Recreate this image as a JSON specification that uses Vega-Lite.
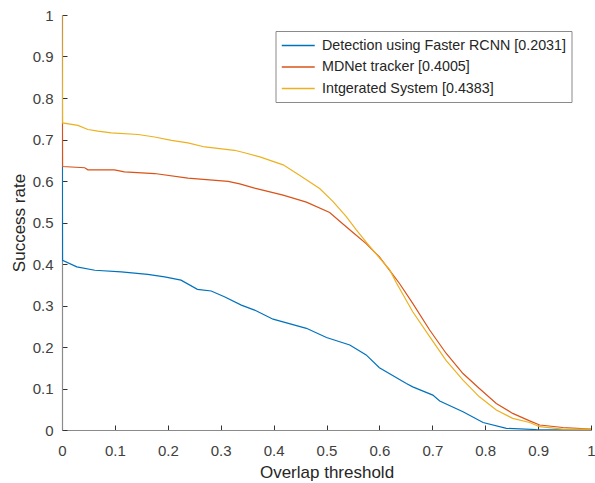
{
  "$schema": "https://vega.github.io/schema/vega-lite/v6.json",
  "width": 529,
  "height": 415,
  "autosize": {"type": "none"},
  "padding": {"left": 62, "top": 15, "right": 4, "bottom": 53},
  "background": "white",
  "config": {
    "view": {"stroke": null},
    "font": "Liberation Sans",
    "axis": {
      "grid": false,
      "domainColor": "#8a8a8a",
      "domainWidth": 1.2,
      "tickColor": "#333333",
      "tickSize": -5,
      "tickWidth": 1,
      "labelFontSize": 15,
      "labelColor": "#404040",
      "labelFont": "Liberation Sans",
      "titleFont": "Liberation Sans",
      "titleFontSize": 17,
      "titleFontWeight": "normal",
      "titleColor": "#262626",
      "labelFlush": false,
      "labelOverlap": false
    }
  },
  "data": {
    "values": [
      {"threshold": 0, "rate": 1, "method": "Detection using Faster RCNN [0.2031]"},
      {"threshold": 0.001, "rate": 0.409, "method": "Detection using Faster RCNN [0.2031]"},
      {"threshold": 0.028, "rate": 0.393, "method": "Detection using Faster RCNN [0.2031]"},
      {"threshold": 0.062, "rate": 0.385, "method": "Detection using Faster RCNN [0.2031]"},
      {"threshold": 0.112, "rate": 0.381, "method": "Detection using Faster RCNN [0.2031]"},
      {"threshold": 0.162, "rate": 0.375, "method": "Detection using Faster RCNN [0.2031]"},
      {"threshold": 0.194, "rate": 0.369, "method": "Detection using Faster RCNN [0.2031]"},
      {"threshold": 0.225, "rate": 0.361, "method": "Detection using Faster RCNN [0.2031]"},
      {"threshold": 0.256, "rate": 0.339, "method": "Detection using Faster RCNN [0.2031]"},
      {"threshold": 0.282, "rate": 0.335, "method": "Detection using Faster RCNN [0.2031]"},
      {"threshold": 0.307, "rate": 0.321, "method": "Detection using Faster RCNN [0.2031]"},
      {"threshold": 0.339, "rate": 0.301, "method": "Detection using Faster RCNN [0.2031]"},
      {"threshold": 0.364, "rate": 0.289, "method": "Detection using Faster RCNN [0.2031]"},
      {"threshold": 0.399, "rate": 0.267, "method": "Detection using Faster RCNN [0.2031]"},
      {"threshold": 0.462, "rate": 0.245, "method": "Detection using Faster RCNN [0.2031]"},
      {"threshold": 0.5, "rate": 0.223, "method": "Detection using Faster RCNN [0.2031]"},
      {"threshold": 0.544, "rate": 0.205, "method": "Detection using Faster RCNN [0.2031]"},
      {"threshold": 0.575, "rate": 0.181, "method": "Detection using Faster RCNN [0.2031]"},
      {"threshold": 0.6, "rate": 0.15, "method": "Detection using Faster RCNN [0.2031]"},
      {"threshold": 0.651, "rate": 0.112, "method": "Detection using Faster RCNN [0.2031]"},
      {"threshold": 0.663, "rate": 0.104, "method": "Detection using Faster RCNN [0.2031]"},
      {"threshold": 0.701, "rate": 0.084, "method": "Detection using Faster RCNN [0.2031]"},
      {"threshold": 0.714, "rate": 0.07, "method": "Detection using Faster RCNN [0.2031]"},
      {"threshold": 0.758, "rate": 0.044, "method": "Detection using Faster RCNN [0.2031]"},
      {"threshold": 0.796, "rate": 0.018, "method": "Detection using Faster RCNN [0.2031]"},
      {"threshold": 0.84, "rate": 0.004, "method": "Detection using Faster RCNN [0.2031]"},
      {"threshold": 0.897, "rate": 0.001, "method": "Detection using Faster RCNN [0.2031]"},
      {"threshold": 1, "rate": 0, "method": "Detection using Faster RCNN [0.2031]"},

      {"threshold": 0, "rate": 1, "method": "MDNet tracker [0.4005]"},
      {"threshold": 0.001, "rate": 0.635, "method": "MDNet tracker [0.4005]"},
      {"threshold": 0.043, "rate": 0.632, "method": "MDNet tracker [0.4005]"},
      {"threshold": 0.049, "rate": 0.627, "method": "MDNet tracker [0.4005]"},
      {"threshold": 0.099, "rate": 0.627, "method": "MDNet tracker [0.4005]"},
      {"threshold": 0.118, "rate": 0.622, "method": "MDNet tracker [0.4005]"},
      {"threshold": 0.175, "rate": 0.618, "method": "MDNet tracker [0.4005]"},
      {"threshold": 0.238, "rate": 0.607, "method": "MDNet tracker [0.4005]"},
      {"threshold": 0.314, "rate": 0.599, "method": "MDNet tracker [0.4005]"},
      {"threshold": 0.336, "rate": 0.593, "method": "MDNet tracker [0.4005]"},
      {"threshold": 0.364, "rate": 0.583, "method": "MDNet tracker [0.4005]"},
      {"threshold": 0.418, "rate": 0.566, "method": "MDNet tracker [0.4005]"},
      {"threshold": 0.462, "rate": 0.549, "method": "MDNet tracker [0.4005]"},
      {"threshold": 0.506, "rate": 0.524, "method": "MDNet tracker [0.4005]"},
      {"threshold": 0.525, "rate": 0.503, "method": "MDNet tracker [0.4005]"},
      {"threshold": 0.55, "rate": 0.476, "method": "MDNet tracker [0.4005]"},
      {"threshold": 0.575, "rate": 0.449, "method": "MDNet tracker [0.4005]"},
      {"threshold": 0.6, "rate": 0.417, "method": "MDNet tracker [0.4005]"},
      {"threshold": 0.619, "rate": 0.385, "method": "MDNet tracker [0.4005]"},
      {"threshold": 0.638, "rate": 0.353, "method": "MDNet tracker [0.4005]"},
      {"threshold": 0.663, "rate": 0.305, "method": "MDNet tracker [0.4005]"},
      {"threshold": 0.695, "rate": 0.241, "method": "MDNet tracker [0.4005]"},
      {"threshold": 0.726, "rate": 0.185, "method": "MDNet tracker [0.4005]"},
      {"threshold": 0.758, "rate": 0.136, "method": "MDNet tracker [0.4005]"},
      {"threshold": 0.789, "rate": 0.1, "method": "MDNet tracker [0.4005]"},
      {"threshold": 0.821, "rate": 0.064, "method": "MDNet tracker [0.4005]"},
      {"threshold": 0.852, "rate": 0.04, "method": "MDNet tracker [0.4005]"},
      {"threshold": 0.884, "rate": 0.022, "method": "MDNet tracker [0.4005]"},
      {"threshold": 0.903, "rate": 0.012, "method": "MDNet tracker [0.4005]"},
      {"threshold": 0.947, "rate": 0.006, "method": "MDNet tracker [0.4005]"},
      {"threshold": 1, "rate": 0.002, "method": "MDNet tracker [0.4005]"},

      {"threshold": 0, "rate": 1, "method": "Intgerated System [0.4383]"},
      {"threshold": 0.001, "rate": 0.74, "method": "Intgerated System [0.4383]"},
      {"threshold": 0.03, "rate": 0.734, "method": "Intgerated System [0.4383]"},
      {"threshold": 0.049, "rate": 0.724, "method": "Intgerated System [0.4383]"},
      {"threshold": 0.068, "rate": 0.72, "method": "Intgerated System [0.4383]"},
      {"threshold": 0.093, "rate": 0.716, "method": "Intgerated System [0.4383]"},
      {"threshold": 0.144, "rate": 0.712, "method": "Intgerated System [0.4383]"},
      {"threshold": 0.175, "rate": 0.706, "method": "Intgerated System [0.4383]"},
      {"threshold": 0.207, "rate": 0.698, "method": "Intgerated System [0.4383]"},
      {"threshold": 0.238, "rate": 0.692, "method": "Intgerated System [0.4383]"},
      {"threshold": 0.27, "rate": 0.682, "method": "Intgerated System [0.4383]"},
      {"threshold": 0.326, "rate": 0.674, "method": "Intgerated System [0.4383]"},
      {"threshold": 0.345, "rate": 0.668, "method": "Intgerated System [0.4383]"},
      {"threshold": 0.374, "rate": 0.658, "method": "Intgerated System [0.4383]"},
      {"threshold": 0.418, "rate": 0.639, "method": "Intgerated System [0.4383]"},
      {"threshold": 0.449, "rate": 0.614, "method": "Intgerated System [0.4383]"},
      {"threshold": 0.487, "rate": 0.582, "method": "Intgerated System [0.4383]"},
      {"threshold": 0.512, "rate": 0.551, "method": "Intgerated System [0.4383]"},
      {"threshold": 0.537, "rate": 0.515, "method": "Intgerated System [0.4383]"},
      {"threshold": 0.556, "rate": 0.483, "method": "Intgerated System [0.4383]"},
      {"threshold": 0.575, "rate": 0.453, "method": "Intgerated System [0.4383]"},
      {"threshold": 0.6, "rate": 0.415, "method": "Intgerated System [0.4383]"},
      {"threshold": 0.619, "rate": 0.387, "method": "Intgerated System [0.4383]"},
      {"threshold": 0.632, "rate": 0.355, "method": "Intgerated System [0.4383]"},
      {"threshold": 0.663, "rate": 0.285, "method": "Intgerated System [0.4383]"},
      {"threshold": 0.695, "rate": 0.225, "method": "Intgerated System [0.4383]"},
      {"threshold": 0.726, "rate": 0.168, "method": "Intgerated System [0.4383]"},
      {"threshold": 0.758, "rate": 0.12, "method": "Intgerated System [0.4383]"},
      {"threshold": 0.789, "rate": 0.08, "method": "Intgerated System [0.4383]"},
      {"threshold": 0.821, "rate": 0.048, "method": "Intgerated System [0.4383]"},
      {"threshold": 0.852, "rate": 0.028, "method": "Intgerated System [0.4383]"},
      {"threshold": 0.884, "rate": 0.018, "method": "Intgerated System [0.4383]"},
      {"threshold": 0.903, "rate": 0.008, "method": "Intgerated System [0.4383]"},
      {"threshold": 0.947, "rate": 0.002, "method": "Intgerated System [0.4383]"},
      {"threshold": 1, "rate": 0.002, "method": "Intgerated System [0.4383]"}
    ]
  },
  "mark": {"type": "line", "strokeWidth": 1.2, "clip": true},
  "encoding": {
    "x": {
      "field": "threshold",
      "type": "quantitative",
      "scale": {"domain": [0, 1], "nice": false, "zero": false},
      "axis": {
        "title": "Overlap threshold",
        "values": [0, 0.1, 0.2, 0.3, 0.4, 0.5, 0.6, 0.7, 0.8, 0.9, 1],
        "format": "~g",
        "labelPadding": 18,
        "titlePadding": 6
      }
    },
    "y": {
      "field": "rate",
      "type": "quantitative",
      "scale": {"domain": [0, 1], "nice": false, "zero": false},
      "axis": {
        "title": "Success rate",
        "values": [0, 0.1, 0.2, 0.3, 0.4, 0.5, 0.6, 0.7, 0.8, 0.9, 1],
        "format": "~g",
        "labelPadding": 14,
        "titlePadding": 4
      }
    },
    "color": {
      "field": "method",
      "type": "nominal",
      "sort": ["Detection using Faster RCNN [0.2031]", "MDNet tracker [0.4005]", "Intgerated System [0.4383]"],
      "scale": {
        "domain": ["Detection using Faster RCNN [0.2031]", "MDNet tracker [0.4005]", "Intgerated System [0.4383]"],
        "range": ["#0072BD", "#D95319", "#EDB120"]
      },
      "legend": {
        "orient": "none",
        "legendX": 213.5,
        "legendY": 16,
        "title": null,
        "strokeColor": "#8a8a8a",
        "fillColor": "white",
        "padding": 5.5,
        "symbolType": "M-1,0H3",
        "symbolSize": 272,
        "symbolStrokeWidth": 1.3,
        "labelFontSize": 14.3,
        "labelFont": "Liberation Sans",
        "labelColor": "#262626",
        "labelOffset": 23,
        "labelLimit": 400,
        "rowPadding": 4.5
      }
    }
  }
}
